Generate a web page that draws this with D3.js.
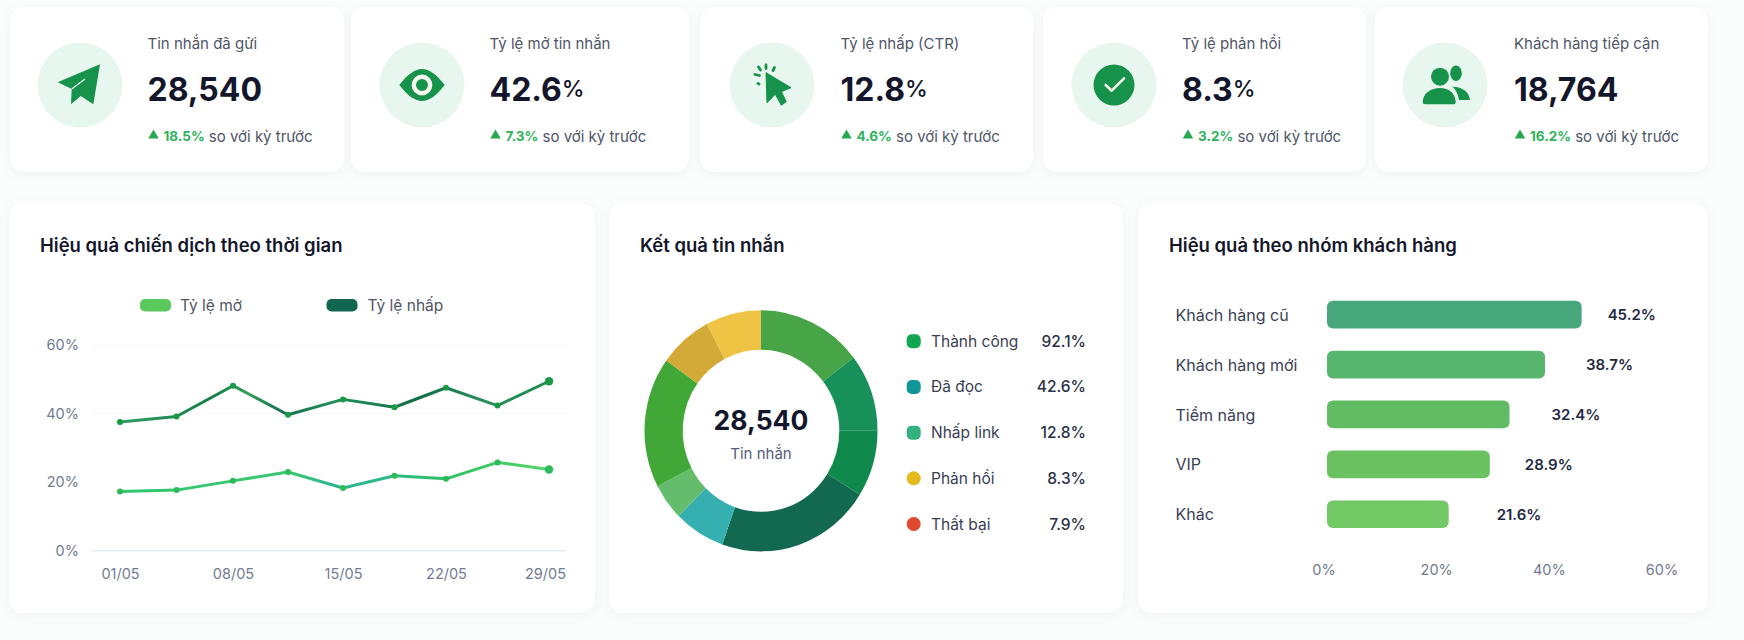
<!DOCTYPE html>
<html lang="vi">
<head>
<meta charset="utf-8">
<title>Hiệu quả chiến dịch</title>
<script src="https://cdn.jsdelivr.net/npm/d3@7/dist/d3.min.js"></script>
<style>
  html, body { margin: 0; padding: 0; background: #fbfcfc; }
  svg { display: block; font-family: Inter, "Noto Sans", sans-serif; }
  .axis text { font-family: Inter, "Noto Sans", sans-serif; }
</style>
</head>
<body>
<svg id="board" width="1744" height="640"></svg>
<script>
// KPI row
const kpiLabels = ["Tin nhắn đã gửi", "Tỷ lệ mở tin nhắn", "Tỷ lệ nhấp (CTR)", "Tỷ lệ phản hồi", "Khách hàng tiếp cận"];
const kpiValues = ["28,540", "42.6", "12.8", "8.3", "18,764"];
const kpiUnits = ["", "%", "%", "%", ""];
const kpiDeltas = ["18.5%", "7.3%", "4.6%", "3.2%", "16.2%"];

// Campaign performance over time
const dayValues = [1, 4.5, 8, 11.5, 15, 18.5, 22, 25.5, 29];
const dayTicks = [1, 8, 15, 22, 29];
const openRate = [17.3, 17.7, 20.4, 23.0, 18.3, 21.9, 21.0, 25.8, 23.7];
const clickRate = [37.6, 39.2, 48.2, 39.7, 44.2, 41.9, 47.6, 42.4, 49.5];
const rateTicks = [0, 20, 40, 60];

// Message results
const resultNames = ["Thành công", "Đã đọc", "Nhấp link", "Phản hồi", "Thất bại"];
const resultValues = [92.1, 42.6, 12.8, 8.3, 7.9];
const ringShares = [14.6, 10.4, 8.9, 21.5, 7.1, 4.9, 17.5, 7.4, 7.7];

// Customer groups
const groupNames = ["Khách hàng cũ", "Khách hàng mới", "Tiềm năng", "VIP", "Khác"];
const groupValues = [45.2, 38.7, 32.4, 28.9, 21.6];
const groupTicks = [0, 20, 40, 60];

// Styling and layout
const ink = "#14172b", body = "#4f5668", muted = "#737b92", iconGreen = "#16924a";
const ringColors = ["#47a547", "#17905a", "#0f8a4c", "#13694f", "#36afb0", "#64bd6c", "#41a838", "#d3a937", "#efc444"];
const resultColors = ["#12a650", "#11979a", "#35b07f", "#e3b91e", "#df4a31"];
const groupColors = ["#46a77c", "#57b56e", "#60bb62", "#69c15f", "#72c865"];
const groupLabelGaps = [26, 41, 42, 35, 48];
const kpiCards = [[10, 334], [351, 338], [700, 333], [1043, 323], [1375, 333]];
const kpiIconX = [80, 422, 772, 1114, 1445];
const kpiTextX = [147.5, 489.5, 840.5, 1182, 1514];
const panels = [[9, 203, 586, 410], [609, 203, 514, 410], [1138, 203, 570, 410]];

const svg = d3.select("#board");
const defs = svg.append("defs");
const shadow = defs.append("filter").attr("id", "cardShadow")
  .attr("x", "-5%").attr("y", "-10%").attr("width", "110%").attr("height", "125%");
shadow.append("feDropShadow").attr("dx", 0).attr("dy", 2).attr("stdDeviation", 5)
  .attr("flood-color", "#8a9bb0").attr("flood-opacity", 0.1);

function addCard(x, y, w, h) {
  svg.append("rect").attr("x", x).attr("y", y).attr("width", w).attr("height", h)
    .attr("rx", 14).attr("fill", "#fff").attr("filter", "url(#cardShadow)");
}
kpiCards.forEach(([x, w]) => addCard(x, 7, w, 165));
panels.forEach(p => addCard(...p));

function addText(x, y, text, opts = {}) {
  return svg.append("text").attr("x", x).attr("y", y).text(text)
    .attr("font-size", opts.size || 14)
    .attr("font-weight", opts.weight || 400)
    .attr("fill", opts.fill || body)
    .attr("text-anchor", opts.anchor || "start")
    .attr("dominant-baseline", "central");
}

// KPI icons, each drawn around the centre of its disc
const iconDrawers = [
  g => {
    g.append("path").attr("fill", iconGreen)
      .attr("d", "M20,-20.7 L-22.3,-2.7 L-8.3,4 L-9,19.3 L0.7,11 L13.3,19.3 Z");
    g.append("path").attr("stroke", "#e9f5ec").attr("stroke-width", 1.4).attr("fill", "none")
      .attr("d", "M-8.3,4 L5,-6");
  },
  g => {
    g.append("path").attr("fill", iconGreen)
      .attr("d", "M-22.7,0 C-14,-11 -7,-16 0,-16 C7,-16 14,-11 22.7,0 C14,11 7,16 0,16 C-7,16 -14,11 -22.7,0 Z");
    g.append("circle").attr("r", 8.2).attr("fill", iconGreen).attr("stroke", "#f4f8ef").attr("stroke-width", 4.4);
  },
  g => {
    g.append("path").attr("fill", iconGreen).attr("stroke", iconGreen).attr("stroke-width", 1).attr("stroke-linejoin", "round")
      .attr("d", "M-6,-12.3 L19,2.7 L9.3,6.7 L14.3,16.7 L9.3,20.2 L3.3,9.3 L-5,17.7 Z");
    const sparks = ["M-17,-10.5 L-12.5,-9.5", "M-13.5,-18 L-11.5,-15", "M-6,-20 L-6,-16.5", "M2.5,-17.5 L1,-14.5", "M-14,-1.5 L-13,-1"];
    g.selectAll(null).data(sparks).join("path").attr("d", d => d)
      .attr("stroke", iconGreen).attr("stroke-width", 2.8).attr("stroke-linecap", "round");
  },
  g => {
    g.append("circle").attr("r", 20.5).attr("fill", iconGreen);
    g.append("path").attr("d", "M-8.3,0 L-2.3,5.7 L10,-6.7").attr("fill", "none")
      .attr("stroke", "#f6f4e6").attr("stroke-width", 2.6).attr("stroke-linecap", "round").attr("stroke-linejoin", "round");
  },
  g => {
    g.append("ellipse").attr("cx", 11).attr("cy", -11.7).attr("rx", 5.8).attr("ry", 7.8).attr("fill", iconGreen);
    g.append("path").attr("fill", iconGreen).attr("d", "M7.5,1.8 C18,2 24,7 25,15 L14,15 C13,9 11,5 7.5,1.8 Z");
    g.append("circle").attr("cx", -5).attr("cy", -8.3).attr("r", 9).attr("fill", iconGreen);
    g.append("path").attr("fill", iconGreen)
      .attr("d", "M-22.3,17 C-22,8 -14,3 -5,3 C4,3 10,8 10.7,17 Q10.7,19.3 8,19.3 L-20,19.3 Q-22.3,19.3 -22.3,17 Z");
  }
];

kpiLabels.forEach((label, i) => {
  const disc = svg.append("g").attr("transform", `translate(${kpiIconX[i]},85)`);
  disc.append("circle").attr("r", 42.5).attr("fill", "#e7f6ee");
  iconDrawers[i](disc);

  const tx = kpiTextX[i];
  addText(tx, 43.5, label, { size: 15, fill: body });

  const num = addText(tx, 89, kpiValues[i], { size: 32, weight: 700, fill: ink });
  num.append("tspan").attr("font-size", 23).attr("font-weight", 500).text(kpiUnits[i]);

  svg.append("path").attr("d", d3.symbol(d3.symbolTriangle, 48)())
    .attr("transform", `translate(${tx + 6},135.5)`).attr("fill", "#27a84f");
  const delta = addText(tx + 16, 136, kpiDeltas[i], { size: 13.5, weight: 700, fill: "#2eb35b" });
  delta.append("tspan").attr("font-size", 15).attr("font-weight", 400).attr("fill", body).text(" so với kỳ trước");
});

// Panel titles
addText(40, 245, "Hiệu quả chiến dịch theo thời gian", { size: 18.5, weight: 600, fill: ink });
addText(640, 245, "Kết quả tin nhắn", { size: 18.5, weight: 600, fill: ink });
addText(1169, 245, "Hiệu quả theo nhóm khách hàng", { size: 18.5, weight: 600, fill: ink });

// Line chart
const lineX = d3.scaleLinear().domain(dayTicks).range([120, 233, 343, 446, 549]);
const lineY = d3.scaleLinear().domain([0, 60]).range([550.7, 345.3]);

const gridOpacity = { 0: 1, 20: 0.15, 40: 0.6, 60: 0.8 };
svg.append("g").selectAll("line").data(rateTicks).join("line")
  .attr("x1", 92).attr("x2", 566)
  .attr("y1", d => lineY(d)).attr("y2", d => lineY(d))
  .attr("stroke", d => d === 0 ? "#e8edf4" : "#eef1f5")
  .attr("stroke-width", d => d === 0 ? 1.4 : 1)
  .attr("stroke-opacity", d => gridOpacity[d]);

const yAxis = svg.append("g").attr("class", "axis").attr("transform", "translate(79,0)")
  .call(d3.axisLeft(lineY).tickValues(rateTicks).tickSize(0).tickPadding(0).tickFormat(d => d + "%"));
yAxis.select(".domain").remove();
yAxis.selectAll("text").attr("font-size", 14.5).attr("fill", muted);

const dayLabel = d => String(d).padStart(2, "0") + "/05";
const xAxis = svg.append("g").attr("class", "axis").attr("transform", "translate(0,574)")
  .call(d3.axisBottom(lineX).tickValues(dayTicks).tickSize(0).tickPadding(0).tickFormat(dayLabel));
xAxis.select(".domain").remove();
xAxis.selectAll("text").attr("font-size", 14.5).attr("fill", muted).attr("dy", "0.32em").attr("y", 0);
xAxis.selectAll(".tick:last-of-type text").attr("dx", -4);

function strokeGradient(id, stops) {
  const g = defs.append("linearGradient").attr("id", id).attr("gradientUnits", "userSpaceOnUse")
    .attr("x1", 120).attr("x2", 549).attr("y1", 0).attr("y2", 0);
  stops.forEach(([o, c]) => g.append("stop").attr("offset", o).attr("stop-color", c));
}
strokeGradient("openStroke", [[0, "#2fc66c"], [0.4, "#3ac872"], [0.5, "#2fb392"], [0.62, "#2db98a"], [0.75, "#2fc068"], [0.88, "#3ccd5e"], [1, "#5ad56e"]]);
strokeGradient("clickStroke", [[0, "#2f9f64"], [0.22, "#137c45"], [0.3, "#2f9f55"], [0.38, "#16704f"], [0.5, "#22905a"], [0.7, "#127048"], [0.85, "#2a8f5c"], [1, "#1b8c4c"]]);

const linePath = d3.line().x((d, i) => lineX(dayValues[i])).y(d => lineY(d));
[[clickRate, "clickStroke", "#189a44"], [openRate, "openStroke", "#2cbb58"]].forEach(([values, stroke, dot]) => {
  svg.append("path").datum(values).attr("d", linePath).attr("fill", "none")
    .attr("stroke", `url(#${stroke})`).attr("stroke-width", 3).attr("stroke-linejoin", "round");
  svg.append("g").selectAll("circle").data(values).join("circle")
    .attr("cx", (d, i) => lineX(dayValues[i])).attr("cy", d => lineY(d))
    .attr("r", (d, i) => i === values.length - 1 ? 4.2 : 3).attr("fill", dot);
});

// Series legend
const seriesLegend = [["Tỷ lệ mở", 140, 180, "#5ac85c"], ["Tỷ lệ nhấp", 326.5, 367.5, "#11664f"]];
seriesLegend.forEach(([name, sx, tx, color]) => {
  svg.append("rect").attr("x", sx).attr("y", 299).attr("width", 31).attr("height", 12.5).attr("rx", 5).attr("fill", color);
  addText(tx, 305.5, name, { size: 15.5, fill: body });
});

// Donut chart
const ringGroup = svg.append("g").attr("transform", "translate(761,430.8) scale(1,1.035)");
const ringArc = d3.arc().innerRadius(78.3).outerRadius(116.5);
const ringPie = d3.pie().sort(null);
ringGroup.selectAll("path").data(ringPie(ringShares)).join("path")
  .attr("d", ringArc).attr("fill", (d, i) => ringColors[i]);
addText(761, 420, "28,540", { size: 26.5, weight: 700, fill: ink, anchor: "middle" });
addText(761, 453.5, "Tin nhắn", { size: 15, fill: "#565d7b", anchor: "middle" });

const legendY = d3.scalePoint().domain(resultNames).range([341.3, 524]);
resultNames.forEach((name, i) => {
  const y = legendY(name);
  svg.append("rect").attr("x", 906.7).attr("y", y - 7).attr("width", 14).attr("height", 14)
    .attr("rx", i > 2 ? 7 : 5).attr("fill", resultColors[i]);
  addText(931, y, name, { size: 15.5, fill: "#3a4154" });
  addText(1086, y, resultValues[i].toFixed(1) + "%", { size: 15.5, weight: 500, fill: "#2b3148", anchor: "end" });
});

// Horizontal bars
const barX = d3.scaleLinear().domain([0, 60]).range([1327, 1665]);
const barY = d3.scaleBand().domain(groupNames).range([289.7, 539.2]).paddingInner(0.445).paddingOuter(0.2225);

svg.append("g").selectAll("rect").data(groupValues).join("rect")
  .attr("x", barX(0)).attr("y", (d, i) => barY(groupNames[i]))
  .attr("width", d => barX(d) - barX(0)).attr("height", barY.bandwidth())
  .attr("rx", 6).attr("fill", (d, i) => groupColors[i]);

const catAxis = svg.append("g").attr("class", "axis").attr("transform", "translate(1175.5,1)")
  .call(d3.axisLeft(barY).tickSize(0).tickPadding(0));
catAxis.select(".domain").remove();
catAxis.selectAll("text").attr("text-anchor", "start").attr("x", 0).attr("font-size", 16).attr("fill", "#3a4154");

svg.append("g").selectAll("text").data(groupValues).join("text")
  .attr("x", (d, i) => barX(d) + groupLabelGaps[i])
  .attr("y", (d, i) => barY(groupNames[i]) + barY.bandwidth() / 2)
  .attr("dominant-baseline", "central").attr("font-size", 15).attr("font-weight", 600)
  .attr("fill", "#23293f").text(d => d.toFixed(1) + "%");

const valAxis = svg.append("g").attr("class", "axis").attr("transform", "translate(-3.5,570)")
  .call(d3.axisBottom(barX).tickValues(groupTicks).tickSize(0).tickPadding(0).tickFormat(d => d + "%"));
valAxis.select(".domain").remove();
valAxis.selectAll("text").attr("font-size", 14.5).attr("fill", muted).attr("dy", "0.32em").attr("y", 0);
</script>
</body>
</html>
